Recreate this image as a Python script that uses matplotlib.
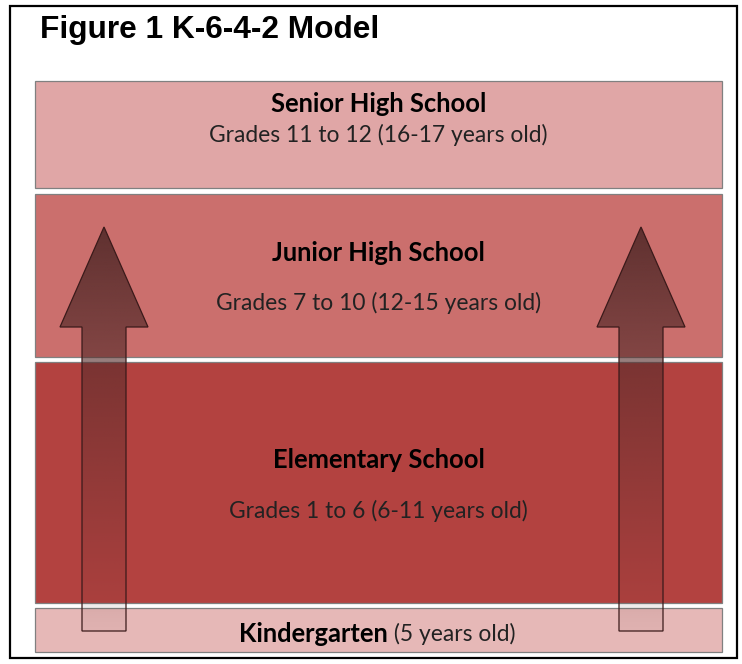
import numpy as np
import matplotlib
matplotlib.use("Agg")
import matplotlib.pyplot as plt
from matplotlib.patches import Rectangle, Polygon
from matplotlib.colors import to_rgb

# layers, top to bottom (pixel space of the original figure)
layer_titles = ["Senior High School", "Junior High School", "Elementary School", "Kindergarten"]
layer_subtitles = ["Grades 11 to 12 (16-17 years old)", "Grades 7 to 10 (12-15 years old)",
                   "Grades 1 to 6 (6-11 years old)", " (5 years old)"]
layer_top = [81, 194, 362, 608]
layer_bottom = [188, 357, 603, 652]
layer_colors = ["#E0A6A6", "#CB6F6D", "#B34240", "#E6B8B7"]
title_y = [104, 253, 460, 634]
subtitle_y = [135, 303, 511, 634]

arrow_x = [104, 641]
arrow_tip, arrow_head_base, arrow_bottom = 227, 327, 631
head_half, shaft_half = 44, 22

W, H = 742, 664
fig = plt.figure(figsize=(W / 100, H / 100), dpi=100)
ax = fig.add_axes([0, 0, 1, 1])
ax.set_xlim(0, W)
ax.set_ylim(H, 0)
ax.axis("off")

# outer frame
ax.add_patch(Rectangle((10, 6), 727, 652, fill=False, ec="black", lw=1.6))
ax.text(40, 38, "Figure 1 K-6-4-2 Model", family="Liberation Sans", weight="bold",
        fontsize=22.8, va="baseline", ha="left")

x0, x1 = 35, 722
for top, bot, col in zip(layer_top, layer_bottom, layer_colors):
    ax.add_patch(Rectangle((x0, top), x1 - x0, bot - top, fc=col, ec="#808080", lw=0.9))

font = "Lato"
title_fs, sub_fs = 18.4, 16.4
xc = (x0 + x1) / 2
for i in range(3):
    ax.text(xc, title_y[i], layer_titles[i], family=font, weight="bold", fontsize=title_fs,
            ha="center", va="center")
    ax.text(xc, subtitle_y[i], layer_subtitles[i], family=font, fontsize=sub_fs,
            ha="center", va="center", color="#222222")
split = 388
ax.text(split, title_y[3], layer_titles[3], family=font, weight="bold", fontsize=title_fs,
        ha="right", va="center")
ax.text(split, subtitle_y[3], layer_subtitles[3], family=font, fontsize=sub_fs,
        ha="left", va="center", color="#222222")

# arrows with a fading fill
arrow_rgb = to_rgb("#552B2A")
ny = 200
alpha = np.linspace(0.92, 0.06, ny) ** 1.1
grad = np.zeros((ny, 1, 4))
grad[..., :3] = arrow_rgb
grad[:, 0, 3] = alpha
for cx in arrow_x:
    pts = [(cx, arrow_tip), (cx + head_half, arrow_head_base), (cx + shaft_half, arrow_head_base),
           (cx + shaft_half, arrow_bottom), (cx - shaft_half, arrow_bottom),
           (cx - shaft_half, arrow_head_base), (cx - head_half, arrow_head_base)]
    poly = Polygon(pts, closed=True, fc="none", ec="#3A1A1A", lw=0.9, zorder=4)
    ax.add_patch(poly)
    im = ax.imshow(grad, extent=(cx - head_half, cx + head_half, arrow_bottom, arrow_tip),
                   aspect="auto", zorder=3, interpolation="bilinear")
    im.set_clip_path(poly)

ax.set_xlim(0, W)
ax.set_ylim(H, 0)
fig.savefig("out.png", dpi=100, facecolor="white")
